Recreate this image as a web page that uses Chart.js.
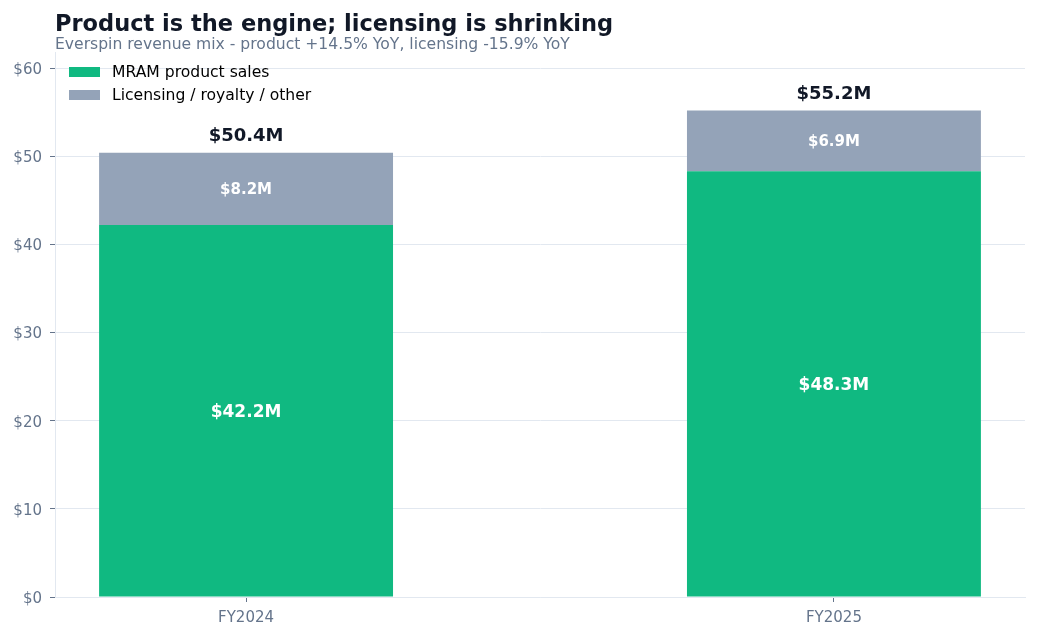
<!DOCTYPE html>
<html>
<head>
<meta charset="utf-8">
<script src="https://cdn.jsdelivr.net/npm/chart.js@4/dist/chart.umd.min.js"></script>
<style>
  html, body { margin: 0; padding: 0; background: #ffffff; }
  #wrap { width: 1037px; height: 637px; position: relative; }
</style>
</head>
<body>
<div id="wrap"><canvas id="revChart"></canvas></div>
<script>
// data
const years = ['FY2024', 'FY2025'];
const productSales = [42.2, 48.3];
const licensing = [8.2, 6.9];
const yTicks = [0, 10, 20, 30, 40, 50, 60];

const FONT = "'DejaVu Sans', sans-serif";
const GREEN = '#10b981';
const SLATE = '#94a3b8';

// titre + legende + etiquettes
const annotate = {
  id: 'annotate',
  afterDatasetsDraw(chart) {
    const ctx = chart.ctx;
    const area = chart.chartArea;
    ctx.save();

    // title
    ctx.textAlign = 'left';
    ctx.textBaseline = 'alphabetic';
    ctx.fillStyle = '#111827';
    ctx.font = 'bold 22.5px ' + FONT;
    ctx.fillText('Product is the engine; licensing is shrinking', area.left, 31);
    ctx.fillStyle = '#64748b';
    ctx.font = '15.6px ' + FONT;
    ctx.fillText('Everspin revenue mix - product +14.5% YoY, licensing -15.9% YoY', area.left, 49);

    // legend
    const items = [
      { label: chart.data.datasets[0].label, color: GREEN },
      { label: chart.data.datasets[1].label, color: SLATE }
    ];
    ctx.font = '15.6px ' + FONT;
    ctx.textBaseline = 'middle';
    items.forEach((it, i) => {
      const y = 72 + i * 23;
      ctx.fillStyle = it.color;
      ctx.fillRect(area.left + 14, y - 5, 31, 10);
      ctx.fillStyle = '#000000';
      ctx.fillText(it.label, area.left + 57, y + 1);
    });

    // values
    const prod = chart.getDatasetMeta(0).data;
    const lic = chart.getDatasetMeta(1).data;
    ctx.textAlign = 'center';
    prod.forEach((bar, i) => {
      const top = lic[i];
      ctx.fillStyle = '#ffffff';
      ctx.font = 'bold 17px ' + FONT;
      ctx.fillText('$' + productSales[i].toFixed(1) + 'M', bar.x, (bar.y + bar.base) / 2 + 2);
      ctx.font = 'bold 15px ' + FONT;
      ctx.fillText('$' + licensing[i].toFixed(1) + 'M', top.x, (top.y + top.base) / 2 + 1.5);
      ctx.fillStyle = '#111827';
      ctx.font = 'bold 18px ' + FONT;
      const total = productSales[i] + licensing[i];
      ctx.fillText('$' + total.toFixed(1) + 'M', top.x, top.y - 16);
    });
    ctx.restore();
  }
};

const ctx = document.getElementById('revChart').getContext('2d');
new Chart(ctx, {
  type: 'bar',
  data: {
    datasets: [{
      label: 'MRAM product sales',
      data: productSales.map((v, i) => ({ x: i, y: v })),
      backgroundColor: GREEN,
      borderWidth: 0,
      categoryPercentage: 1,
      barPercentage: 0.5
    }, {
      label: 'Licensing / royalty / other',
      data: licensing.map((v, i) => ({ x: i, y: v })),
      backgroundColor: SLATE,
      borderWidth: 0,
      categoryPercentage: 1,
      barPercentage: 0.5
    }]
  },
  options: {
    responsive: true,
    maintainAspectRatio: false,
    animation: false,
    layout: { padding: { top: 52, right: 12, left: 0, bottom: 0 } },
    scales: {
      x: {
        type: 'linear',
        stacked: true,
        offset: false,
        min: -0.325,
        max: 1.325,
        afterBuildTicks: scale => { scale.ticks = years.map((_, i) => ({ value: i })); },
        afterFit: scale => { scale.height = 40; },
        ticks: {
          color: '#64748b',
          font: { family: FONT, size: 15 },
          padding: 7,
          callback: v => years[v]
        },
        grid: {
          offset: false,
          drawOnChartArea: false,
          tickLength: 5,
          tickColor: '#64748b'
        },
        border: { color: '#e2e8f0' }
      },
      y: {
        stacked: true,
        min: 0,
        max: 61.824,
        afterBuildTicks: scale => { scale.ticks = yTicks.map(v => ({ value: v })); },
        afterFit: scale => { scale.width = 55; },
        ticks: {
          color: '#64748b',
          font: { family: FONT, size: 15 },
          padding: 8,
          labelOffset: 2,
          callback: v => '$' + v
        },
        grid: {
          color: '#e2e8f0',
          tickLength: 5,
          tickColor: '#64748b'
        },
        border: { color: '#e2e8f0' }
      }
    },
    plugins: {
      legend: { display: false },
      tooltip: { enabled: false }
    }
  },
  plugins: [annotate]
});
</script>
</body>
</html>
